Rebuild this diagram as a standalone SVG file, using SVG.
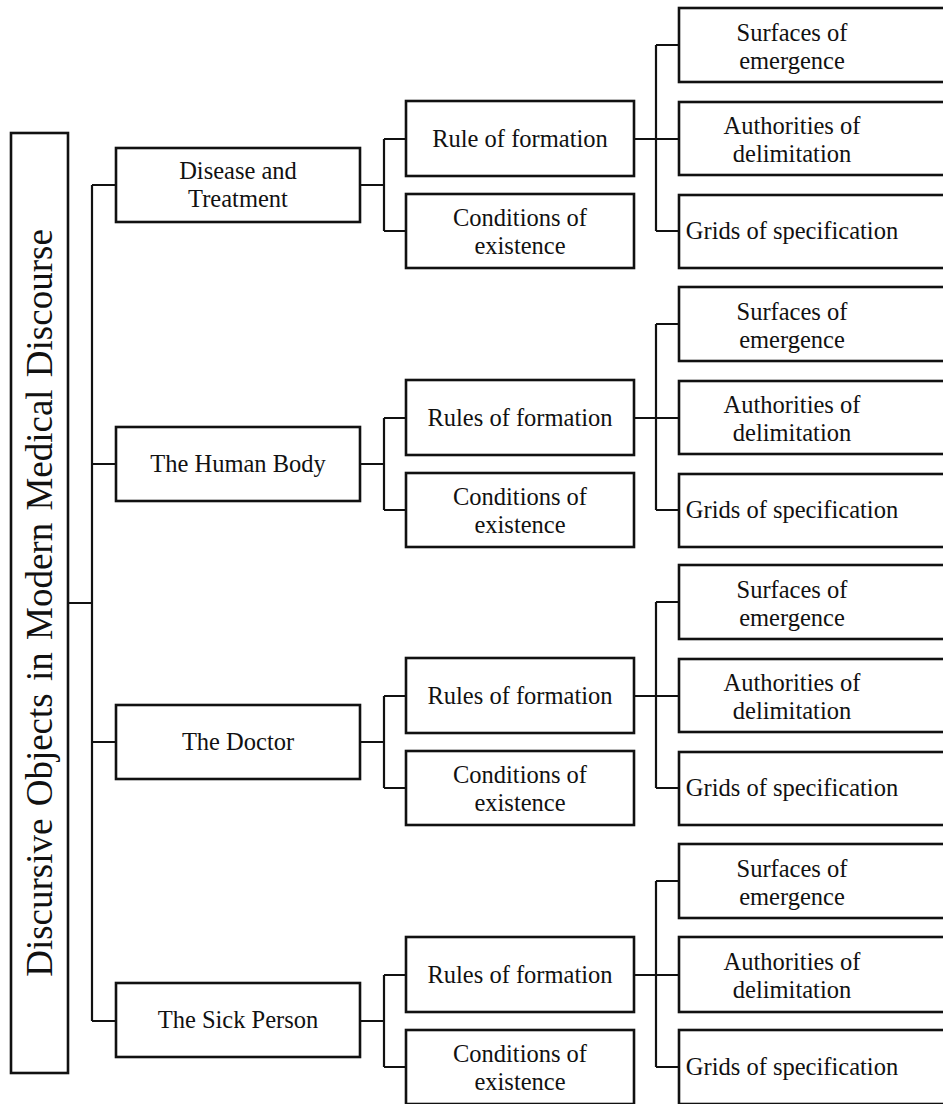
<svg xmlns="http://www.w3.org/2000/svg" width="943" height="1104" viewBox="0 0 943 1104">
  <style>
    .box { fill: #ffffff; stroke: #111111; stroke-width: 2.6; }
    .wire { fill: none; stroke: #111111; stroke-width: 2.2; }
    .lbl { font-family: "Liberation Serif", "Times New Roman", serif; font-size: 24.5px; fill: #111111; text-anchor: middle; }
    .root { font-family: "Liberation Serif", "Times New Roman", serif; font-size: 37px; fill: #111111; text-anchor: middle; }
  </style>
  <rect width="943" height="1104" fill="#ffffff"/>

  <!-- connectors -->
  <g id="connectors" class="wire">
    <!-- root to objects -->
    <path d="M68 603 H92 M92 185 V1021 M92 185 H116 M92 464 H116 M92 742 H116 M92 1021 H116"/>
    <!-- object 1 -->
    <path d="M360 185 H384 M384 139 V231 M384 139 H406 M384 231 H406"/>
    <path d="M634 139 H679 M656 45 V231 M656 45 H679 M656 231 H679"/>
    <!-- object 2 -->
    <path d="M360 464 H384 M384 418 V510 M384 418 H406 M384 510 H406"/>
    <path d="M634 418 H679 M656 324 V510 M656 324 H679 M656 510 H679"/>
    <!-- object 3 -->
    <path d="M360 742 H384 M384 696 V788 M384 696 H406 M384 788 H406"/>
    <path d="M634 696 H679 M656 602 V788 M656 602 H679 M656 788 H679"/>
    <!-- object 4 -->
    <path d="M360 1021 H384 M384 975 V1067 M384 975 H406 M384 1067 H406"/>
    <path d="M634 975 H679 M656 881 V1067 M656 881 H679 M656 1067 H679"/>
  </g>

  <!-- root -->
  <g id="root">
    <rect class="box" x="11" y="133" width="57" height="940"/>
    <text class="root" transform="translate(52 603) rotate(-90)" word-spacing="3">Discursive Objects in Modern Medical Discourse</text>
  </g>

  <!-- object 1: Disease and Treatment -->
  <g id="obj1">
    <rect class="box" x="116" y="148" width="244" height="74"/>
    <text class="lbl" x="238" y="179">Disease and</text>
    <text class="lbl" x="238" y="207">Treatment</text>
  </g>
  <g id="obj1-rule">
    <rect class="box" x="406" y="101" width="228" height="75"/>
    <text class="lbl" x="520" y="147">Rule of formation</text>
  </g>
  <g id="obj1-cond">
    <rect class="box" x="406" y="194" width="228" height="74"/>
    <text class="lbl" x="520" y="226">Conditions of</text>
    <text class="lbl" x="520" y="254">existence</text>
  </g>
  <g id="obj1-surf">
    <rect class="box" x="679" y="8" width="270" height="74"/>
    <text class="lbl" x="792" y="41">Surfaces of</text>
    <text class="lbl" x="792" y="69">emergence</text>
  </g>
  <g id="obj1-auth">
    <rect class="box" x="679" y="102" width="270" height="73"/>
    <text class="lbl" x="792" y="134">Authorities of</text>
    <text class="lbl" x="792" y="162">delimitation</text>
  </g>
  <g id="obj1-grid">
    <rect class="box" x="679" y="195" width="270" height="73"/>
    <text class="lbl" x="792" y="239">Grids of specification</text>
  </g>

  <!-- object 2: The Human Body -->
  <g id="obj2">
    <rect class="box" x="116" y="427" width="244" height="74"/>
    <text class="lbl" x="238" y="472">The Human Body</text>
  </g>
  <g id="obj2-rule">
    <rect class="box" x="406" y="380" width="228" height="75"/>
    <text class="lbl" x="520" y="426">Rules of formation</text>
  </g>
  <g id="obj2-cond">
    <rect class="box" x="406" y="473" width="228" height="74"/>
    <text class="lbl" x="520" y="505">Conditions of</text>
    <text class="lbl" x="520" y="533">existence</text>
  </g>
  <g id="obj2-surf">
    <rect class="box" x="679" y="287" width="270" height="74"/>
    <text class="lbl" x="792" y="320">Surfaces of</text>
    <text class="lbl" x="792" y="348">emergence</text>
  </g>
  <g id="obj2-auth">
    <rect class="box" x="679" y="381" width="270" height="73"/>
    <text class="lbl" x="792" y="413">Authorities of</text>
    <text class="lbl" x="792" y="441">delimitation</text>
  </g>
  <g id="obj2-grid">
    <rect class="box" x="679" y="474" width="270" height="73"/>
    <text class="lbl" x="792" y="518">Grids of specification</text>
  </g>

  <!-- object 3: The Doctor -->
  <g id="obj3">
    <rect class="box" x="116" y="705" width="244" height="74"/>
    <text class="lbl" x="238" y="750">The Doctor</text>
  </g>
  <g id="obj3-rule">
    <rect class="box" x="406" y="658" width="228" height="75"/>
    <text class="lbl" x="520" y="704">Rules of formation</text>
  </g>
  <g id="obj3-cond">
    <rect class="box" x="406" y="751" width="228" height="74"/>
    <text class="lbl" x="520" y="783">Conditions of</text>
    <text class="lbl" x="520" y="811">existence</text>
  </g>
  <g id="obj3-surf">
    <rect class="box" x="679" y="565" width="270" height="74"/>
    <text class="lbl" x="792" y="598">Surfaces of</text>
    <text class="lbl" x="792" y="626">emergence</text>
  </g>
  <g id="obj3-auth">
    <rect class="box" x="679" y="659" width="270" height="73"/>
    <text class="lbl" x="792" y="691">Authorities of</text>
    <text class="lbl" x="792" y="719">delimitation</text>
  </g>
  <g id="obj3-grid">
    <rect class="box" x="679" y="752" width="270" height="73"/>
    <text class="lbl" x="792" y="796">Grids of specification</text>
  </g>

  <!-- object 4: The Sick Person -->
  <g id="obj4">
    <rect class="box" x="116" y="983" width="244" height="74"/>
    <text class="lbl" x="238" y="1028">The Sick Person</text>
  </g>
  <g id="obj4-rule">
    <rect class="box" x="406" y="937" width="228" height="75"/>
    <text class="lbl" x="520" y="983">Rules of formation</text>
  </g>
  <g id="obj4-cond">
    <rect class="box" x="406" y="1030" width="228" height="74"/>
    <text class="lbl" x="520" y="1062">Conditions of</text>
    <text class="lbl" x="520" y="1090">existence</text>
  </g>
  <g id="obj4-surf">
    <rect class="box" x="679" y="844" width="270" height="74"/>
    <text class="lbl" x="792" y="877">Surfaces of</text>
    <text class="lbl" x="792" y="905">emergence</text>
  </g>
  <g id="obj4-auth">
    <rect class="box" x="679" y="937" width="270" height="75"/>
    <text class="lbl" x="792" y="970">Authorities of</text>
    <text class="lbl" x="792" y="998">delimitation</text>
  </g>
  <g id="obj4-grid">
    <rect class="box" x="679" y="1030" width="270" height="74"/>
    <text class="lbl" x="792" y="1075">Grids of specification</text>
  </g>
</svg>
